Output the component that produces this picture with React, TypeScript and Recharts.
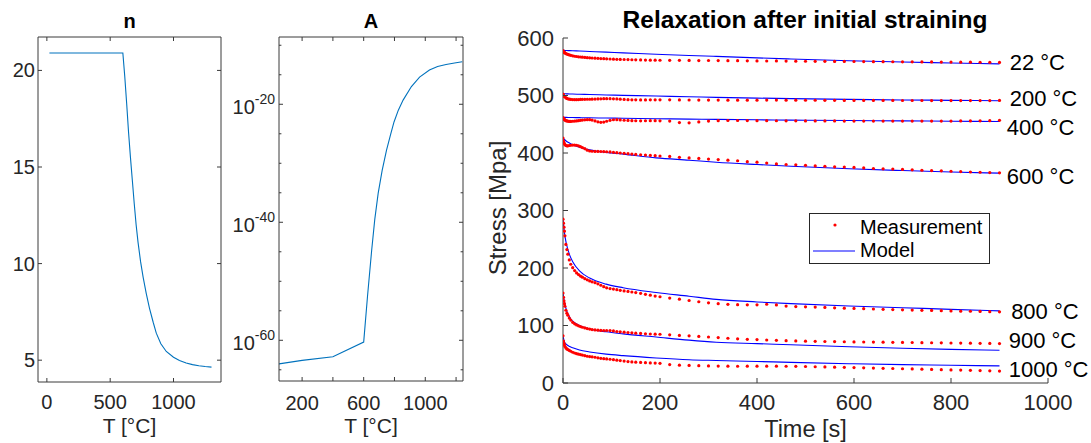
import React from "react";
import {
  LineChart,
  ComposedChart,
  Line,
  Scatter,
  XAxis,
  YAxis,
  ReferenceLine,
  ReferenceDot,
  Legend,
} from "recharts";

// ---- n(T) ----
const N_T = [20, 600, 615, 630, 645, 660, 675, 690, 705, 720, 740, 760, 785, 810, 840, 864, 900, 943, 1000, 1047, 1100, 1150, 1200, 1250, 1300];
const N_VAL = [20.9, 20.9, 19.7, 18.3, 16.8, 15.5, 14.3, 13.1, 12.0, 11.1, 10.1, 9.3, 8.45, 7.7, 6.95, 6.4, 5.85, 5.45, 5.15, 4.98, 4.85, 4.77, 4.71, 4.67, 4.64];

// ---- A(T), stored as log10(A) ----
const A_T = [50, 200, 400, 600, 625, 652, 672, 694, 720, 748, 775, 797, 825, 856, 910, 963, 1027, 1080, 1135, 1190, 1240];
const A_LOG = [-64.0, -63.4, -62.8, -60.3, -52.5, -44.7, -39.5, -35.1, -31.2, -27.8, -25.1, -23.0, -21.0, -19.3, -17.0, -15.4, -14.2, -13.6, -13.25, -13.0, -12.8];

// ---- relaxation: measurement ----
const T_MEAS = [
  0, 1, 2, 3, 4, 6, 8, 10, 13, 16, 20, 24, 28, 32, 36, 40, 45, 50, 55, 60, 66, 72, 78, 84, 90, 97, 104, 111, 118, 126, 134, 142, 150, 160, 170, 180, 190, 200,
  220, 240, 260, 280, 300, 320, 340, 360, 380, 400, 420, 440, 460, 480, 500, 520, 540, 560, 580, 600, 620, 640, 660, 680, 700, 720, 740, 760, 780, 800, 820, 840, 860, 880, 900,
];
const MEAS_22 = [
  578, 576.5, 575.5, 574.6, 574, 573, 572.2, 571.4, 570.5, 569.8, 569, 568.3, 567.8, 567.3, 567, 566.6, 566.2, 565.8, 565.5, 565.2, 564.9, 564.6, 564.3, 564, 563.8, 563.5, 563.2, 563, 562.8, 562.6, 562.4, 562.2, 562, 561.8, 561.6, 561.5, 561.4, 561.3,
  561.2, 561.1, 561, 560.8, 560.9, 560.7, 560.5, 560.6, 560.3, 560.2, 560, 560.1, 559.8, 559.7, 559.6, 559.5, 559.5, 559.3, 559.2, 559.1, 559, 558.9, 558.9, 558.7, 558.6, 558.5, 558.4, 558.4, 558.2, 558.1, 558, 557.9, 557.8, 557.7, 557.6,
];
const MEAS_200 = [
  502.5, 501, 499.5, 498.5, 497.5, 496, 495, 494.3, 493.6, 493.2, 493, 492.8, 492.8, 493, 493.2, 493.3, 493.4, 493.5, 493.5, 493.6, 493.8, 494, 494.2, 494.4, 494.5, 494.5, 494.3, 494, 493.6, 493.2, 492.8, 492.5, 492.4, 492.3, 492.3, 492.4, 492.5, 492.5,
  492.4, 492.3, 492.2, 492.1, 492, 492, 491.9, 491.8, 491.8, 491.9, 492, 492, 491.9, 491.8, 491.7, 491.7, 491.6, 491.6, 491.5, 491.5, 491.5, 491.4, 491.4, 491.4, 491.3, 491.3, 491.3, 491.2, 491.2, 491.2, 491.1, 491.1, 491.1, 491.2, 491.4,
];
const MEAS_400 = [
  461.5, 460, 459, 458, 457.2, 456.3, 455.7, 455.3, 455, 455, 455.2, 455.5, 455.8, 456.2, 456.8, 457.3, 457.7, 458, 458, 457.3, 455.8, 454.2, 453.3, 453.8, 455.2, 456.8, 457.8, 458, 457.5, 457, 456.6, 456.3, 456.1, 456, 456.1, 456.2, 456.2, 456,
  455.5, 453, 452.5, 454, 455.5, 456.2, 456.5, 456.5, 456.4, 456.3, 456.2, 456.1, 456, 455.9, 455.8, 455.8, 455.7, 455.7, 455.6, 455.6, 455.6, 455.5, 455.5, 455.5, 455.5, 455.5, 455.5, 455.6, 455.6, 455.6, 455.7, 455.8, 456, 456.3, 456.8,
];
const MEAS_600 = [
  426, 421, 418, 416, 414.5, 413, 412.5, 412.5, 413, 413.5, 413.8, 413.8, 413.5, 412.5, 411, 409.5, 407.5, 405, 403.5, 403, 402.8, 402.7, 402.6, 402.5, 402.2, 401.8, 401.2, 400.6, 400, 399.4, 398.8, 398.2, 397.6, 397, 396.4, 395.8, 395.3, 394.8,
  394, 392.5, 391.5, 390.5, 389.5, 388.5, 387.5, 386.5, 385, 384, 382.5, 381, 380, 379.5, 378.5, 377.5, 377, 376, 375.5, 375, 374, 373, 372.5, 372, 371.5, 370.8, 370, 369.5, 369, 368.3, 367.7, 367, 366.5, 366, 365.5,
];
const MEAS_800 = [
  285, 278, 271, 264, 256, 241, 232, 224, 214, 206.5, 200.5, 195.5, 191.5, 188.5, 186, 184, 181.5, 179.5, 177.5, 176, 174.5, 172.5, 170, 167.5, 165.5, 164.3, 163.3, 162.3, 161.2, 160.2, 159.2, 158.3, 157.3, 156, 154.3, 152.7, 151.2, 150,
  147.7, 145.7, 143.5, 141.3, 139.5, 138, 136.8, 136.2, 136, 136, 137, 135.8, 133.8, 133, 132.5, 132, 131.5, 130.7, 130.2, 129.7, 129.2, 128.7, 128.2, 127.7, 127.2, 126.8, 126.4, 126.2, 125.8, 125.4, 125, 124.8, 124.4, 124, 123.8,
];
const MEAS_900 = [
  156.5, 149, 143, 138, 133.5, 126.5, 121.5, 118, 113, 109.5, 105.5, 103, 101, 99.5, 98.2, 97, 95.8, 94.7, 93.8, 93, 92.3, 91.8, 91.5, 91.3, 91.3, 91.2, 90.5, 89.6, 89, 88.4, 87.8, 87.2, 86.7, 86.2, 85.6, 85.2, 85, 84.8,
  83.7, 82.8, 82, 81, 80, 79, 77.8, 76.8, 76, 75.5, 74.8, 74.2, 73.6, 73.2, 72.8, 72.5, 72.2, 72, 71.7, 71.5, 71.3, 71.1, 71, 70.8, 70.6, 70.4, 70.2, 70, 69.8, 69.6, 69.4, 69.2, 69, 68.8, 68.6,
];
const MEAS_1000 = [
  82, 73, 69, 66, 63.5, 61, 59.3, 58.2, 56.7, 55.2, 53.5, 52.2, 51, 50.2, 49.4, 48.6, 47.6, 46.5, 46, 45.5, 44.8, 43.8, 43, 42.3, 41.8, 41.3, 40.5, 39.7, 39, 38.2, 37.2, 36.6, 36.2, 35.7, 35.3, 34.9, 34.6, 34.3,
  32, 31, 30.5, 30.1, 29.7, 29.4, 29.2, 29.1, 29.2, 29.3, 29.3, 29.2, 29.1, 29, 28.7, 28.3, 28, 27.6, 27.2, 26.8, 26.4, 26, 25.6, 25.2, 24.8, 24.4, 24, 23.6, 23.2, 22.8, 22.4, 22, 21.6, 21.2, 20.8,
];

// ---- relaxation: model ----
const T_MODEL = [0, 3, 7, 14, 20, 34, 55, 89, 124, 192, 260, 316, 400, 470, 590, 700, 800, 900];
const MODEL_22 = [578.5, 578.4, 578.2, 578, 577.8, 577.3, 576.6, 575.4, 574.2, 571.8, 569.6, 568, 565.5, 563.5, 560.5, 558.3, 556.6, 555];
const MODEL_200 = [503, 503, 502.9, 502.7, 502.5, 502.2, 501.7, 501, 500.3, 499, 497.8, 496.8, 495.5, 494.6, 493.3, 492.3, 491.6, 491];
const MODEL_400 = [462, 462, 461.9, 461.8, 461.7, 461.5, 461.2, 460.8, 460.4, 459.6, 458.9, 458.4, 457.7, 457.2, 456.4, 455.8, 455.3, 454.8];
const MODEL_600 = [426, 423.5, 420.5, 417, 414.5, 410, 405.5, 401, 398, 391.5, 387.5, 384, 380, 377, 372.5, 369.5, 367, 365];
const MODEL_800 = [285, 261, 242, 222, 211, 195, 182.5, 172, 165.7, 157.5, 151, 145.5, 141, 138, 134, 131, 128, 125.5];
const MODEL_900 = [156.5, 141, 127, 114, 107.5, 100, 94, 89, 85.5, 80, 74.5, 71, 68.5, 66.5, 63, 60.5, 58.5, 57];
const MODEL_1000 = [82, 71.5, 67, 63.3, 61.3, 57.3, 54, 50.2, 47.6, 43.6, 40.5, 39.2, 37.5, 35.8, 33.6, 32, 30.8, 29.7];

const TEMP_LABELS = ["22 °C", "200 °C", "400 °C", "600 °C", "800 °C", "900 °C", "1000 °C"];
const LABEL_T = [921, 921, 915, 915, 924, 919, 919];
const LABEL_V = [558, 494.5, 445, 360, 125, 74.5, 24];

// ---- ticks ----
const N_TICKS_X = [0, 500, 1000];
const N_TICKS_Y = [5, 10, 15, 20];
const A_TICKS_X = [200, 400, 600, 800, 1000, 1200];
const A_LABELS_X = [200, 600, 1000];
const A_TICKS_Y = [-65, -60, -55, -50, -45, -40, -35, -30, -25, -20, -15, -10];
const A_LABELS_Y = [-60, -40, -20];
const S_TICKS_X = [0, 200, 400, 600, 800, 1000];
const S_TICKS_Y = [0, 100, 200, 300, 400, 500, 600];

const W = 1091;
const H = 443;
const AXIS = "#3a3a3a";
const TXT = "#262626";
const FONT = '"Liberation Sans", Arial, Helvetica, sans-serif';
const LINE_BLUE = "#0072bd";

type Box = { l: number; r: number; t: number; b: number };
const P1: Box = { l: 38, r: 221, t: 37, b: 382 };
const P2: Box = { l: 279, r: 463, t: 37, b: 381 };
const P3: Box = { l: 563, r: 1048, t: 38, b: 383 };
const YW = 30;
const XH = 30;
const marginFor = (p: Box) => ({ left: p.l - YW, top: p.t, right: W - p.r, bottom: H - p.b - XH });

const rows = (ts: number[], vs: number[]) => ts.map((t, i) => ({ t, v: vs[i] }));

type TickOpts = {
  box: boolean;
  len: number;
  gap: number;
  size: number;
  label: (v: number) => React.ReactNode;
  minor?: (v: number) => boolean;
};

function yTick(p: Box, o: TickOpts) {
  return (props: any) => {
    const y = props.y;
    const v = props.payload.value;
    const len = o.minor && o.minor(v) ? o.len * 0.6 : o.len;
    const lab = o.label(v);
    return (
      <g>
        <line x1={p.l} x2={p.l + len} y1={y} y2={y} stroke={AXIS} />
        {o.box && <line x1={p.r} x2={p.r - len} y1={y} y2={y} stroke={AXIS} />}
        {lab != null && (
          <text x={p.l - o.gap} y={y} textAnchor="end" dominantBaseline="central" fontSize={o.size} fill={TXT} fontFamily={FONT}>
            {lab}
          </text>
        )}
      </g>
    );
  };
}

function xTick(p: Box, o: TickOpts) {
  return (props: any) => {
    const x = props.x;
    const v = props.payload.value;
    const lab = o.label(v);
    return (
      <g>
        <line x1={x} x2={x} y1={p.b} y2={p.b - o.len} stroke={AXIS} />
        {o.box && <line x1={x} x2={x} y1={p.t} y2={p.t + o.len} stroke={AXIS} />}
        {lab != null && (
          <text x={x} y={o.gap} textAnchor="middle" fontSize={o.size} fill={TXT} fontFamily={FONT}>
            {lab}
          </text>
        )}
      </g>
    );
  };
}

const powLabel = (v: number) =>
  A_LABELS_Y.includes(v) ? (
    <>
      <tspan dy={3}>10</tspan>
      <tspan dy={-8} fontSize={14}>
        {String(v)}
      </tspan>
    </>
  ) : null;

const redDot = (props: any) => <circle cx={props.cx} cy={props.cy} r={1.6} fill="#ff0000" />;

function LegendBox() {
  return (
    <div style={{ width: 181, height: 51, boxSizing: "border-box", border: `1px solid ${TXT}`, background: "#fff", position: "relative" }}>
      <svg width={181} height={51} style={{ position: "absolute", left: -1, top: -1 }}>
        <circle cx={26} cy={12} r={1.6} fill="#ff0000" />
        <line x1={4} x2={46} y1={38} y2={38} stroke="#0000ff" strokeWidth={1.2} />
        <text x={51} y={21} fontSize={20} fontFamily={FONT} fill="#000">
          Measurement
        </text>
        <text x={51} y={44} fontSize={20} fontFamily={FONT} fill="#000">
          Model
        </text>
      </svg>
    </div>
  );
}

const abs: React.CSSProperties = { position: "absolute", left: 0, top: 0 };

export default function App() {
  const nRows = rows(N_T, N_VAL);
  const aRows = rows(A_T, A_LOG);
  const meas = [MEAS_22, MEAS_200, MEAS_400, MEAS_600, MEAS_800, MEAS_900, MEAS_1000].map((m) => rows(T_MEAS, m));
  const model = [MODEL_22, MODEL_200, MODEL_400, MODEL_600, MODEL_800, MODEL_900, MODEL_1000].map((m) => rows(T_MODEL, m));

  return (
    <div style={{ position: "absolute", left: 0, top: 0, width: W, height: H, background: "#fff", overflow: "hidden" }}>
      {/* n */}
      <div style={abs}>
        <LineChart width={W} height={H} margin={marginFor(P1)}>
          <XAxis
            type="number"
            dataKey="t"
            domain={[-70, 1375]}
            ticks={N_TICKS_X}
            interval={0}
            allowDataOverflow
            height={XH}
            tickLine={false}
            stroke={AXIS}
            tick={xTick(P1, { box: true, len: 4, gap: 409, size: 20, label: (v) => String(v) })}
          />
          <YAxis
            type="number"
            dataKey="v"
            domain={[3.87, 21.73]}
            ticks={N_TICKS_Y}
            interval={0}
            allowDataOverflow
            width={YW}
            tickLine={false}
            stroke={AXIS}
            tick={yTick(P1, { box: true, len: 4, gap: 3, size: 20, label: (v) => String(v) })}
          />
          <ReferenceLine x={1375} stroke={AXIS} />
          <ReferenceLine y={21.73} stroke={AXIS} />
          <Line data={nRows} dataKey="v" type="linear" stroke={LINE_BLUE} strokeWidth={1.1} dot={false} isAnimationActive={false} />
        </LineChart>
      </div>

      {/* A */}
      <div style={abs}>
        <LineChart width={W} height={H} margin={marginFor(P2)}>
          <XAxis
            type="number"
            dataKey="t"
            domain={[50, 1245]}
            ticks={A_TICKS_X}
            interval={0}
            allowDataOverflow
            height={XH}
            tickLine={false}
            stroke={AXIS}
            tick={xTick(P2, { box: true, len: 4, gap: 410, size: 20, label: (v) => (A_LABELS_X.includes(v) ? String(v) : null) })}
          />
          <YAxis
            type="number"
            dataKey="v"
            domain={[-66.9, -8.6]}
            ticks={A_TICKS_Y}
            interval={0}
            allowDataOverflow
            width={YW}
            tickLine={false}
            stroke={AXIS}
            tick={yTick(P2, { box: true, len: 4, gap: 4, size: 20, label: powLabel, minor: (v) => !A_LABELS_Y.includes(v) })}
          />
          <ReferenceLine x={1245} stroke={AXIS} />
          <ReferenceLine y={-8.6} stroke={AXIS} />
          <Line data={aRows} dataKey="v" type="linear" stroke={LINE_BLUE} strokeWidth={1.1} dot={false} isAnimationActive={false} />
        </LineChart>
      </div>

      {/* relaxation */}
      <div style={abs}>
        <ComposedChart width={W} height={H} margin={marginFor(P3)}>
          <XAxis
            type="number"
            dataKey="t"
            domain={[0, 1000]}
            ticks={S_TICKS_X}
            interval={0}
            allowDataOverflow
            height={XH}
            tickLine={false}
            stroke={AXIS}
            tick={xTick(P3, { box: false, len: 5, gap: 410, size: 22, label: (v) => String(v) })}
          />
          <YAxis
            type="number"
            dataKey="v"
            domain={[0, 600]}
            ticks={S_TICKS_Y}
            interval={0}
            allowDataOverflow
            width={YW}
            tickLine={false}
            stroke={AXIS}
            tick={yTick(P3, { box: false, len: 5, gap: 9, size: 22, label: (v) => String(v) })}
          />
          {model.map((m, i) => (
            <Line key={"mod" + i} data={m} dataKey="v" type="monotone" stroke="#0000ff" strokeWidth={1.1} dot={false} isAnimationActive={false} />
          ))}
          {meas.map((m, i) => (
            <Scatter key={"meas" + i} data={m} dataKey="v" fill="#ff0000" shape={redDot} isAnimationActive={false} />
          ))}
          {TEMP_LABELS.map((s, i) => (
            <ReferenceDot
              key={s}
              x={LABEL_T[i]}
              y={LABEL_V[i]}
              r={0}
              fill="none"
              stroke="none"
              ifOverflow="visible"
              label={{ value: s, position: "right", offset: 0, fontSize: 22, fill: "#000", fontFamily: FONT }}
            />
          ))}
          <Legend
            layout="vertical"
            align="center"
            verticalAlign="middle"
            wrapperStyle={{ left: 809, top: 213, width: 181, height: 51 }}
            content={() => <LegendBox />}
          />
        </ComposedChart>
      </div>

      {/* titles and axis labels */}
      <svg width={W} height={H} style={{ ...abs, pointerEvents: "none" }} fontFamily={FONT}>
        <text x={129.5} y={28} textAnchor="middle" fontSize={20} fontWeight="bold" fill="#000">
          n
        </text>
        <text x={371} y={28} textAnchor="middle" fontSize={20} fontWeight="bold" fill="#000">
          A
        </text>
        <text x={805} y={28} textAnchor="middle" fontSize={24.5} fontWeight="bold" fill="#000">
          Relaxation after initial straining
        </text>
        <text x={129.5} y={433} textAnchor="middle" fontSize={21} fill={TXT}>
          T [°C]
        </text>
        <text x={371} y={433} textAnchor="middle" fontSize={21} fill={TXT}>
          T [°C]
        </text>
        <text x={805.5} y={437} textAnchor="middle" fontSize={23.5} fill={TXT}>
          Time [s]
        </text>
        <text x={506} y={208} textAnchor="middle" fontSize={24} fill={TXT} transform="rotate(-90 506 208)">
          Stress [Mpa]
        </text>
      </svg>
    </div>
  );
}
